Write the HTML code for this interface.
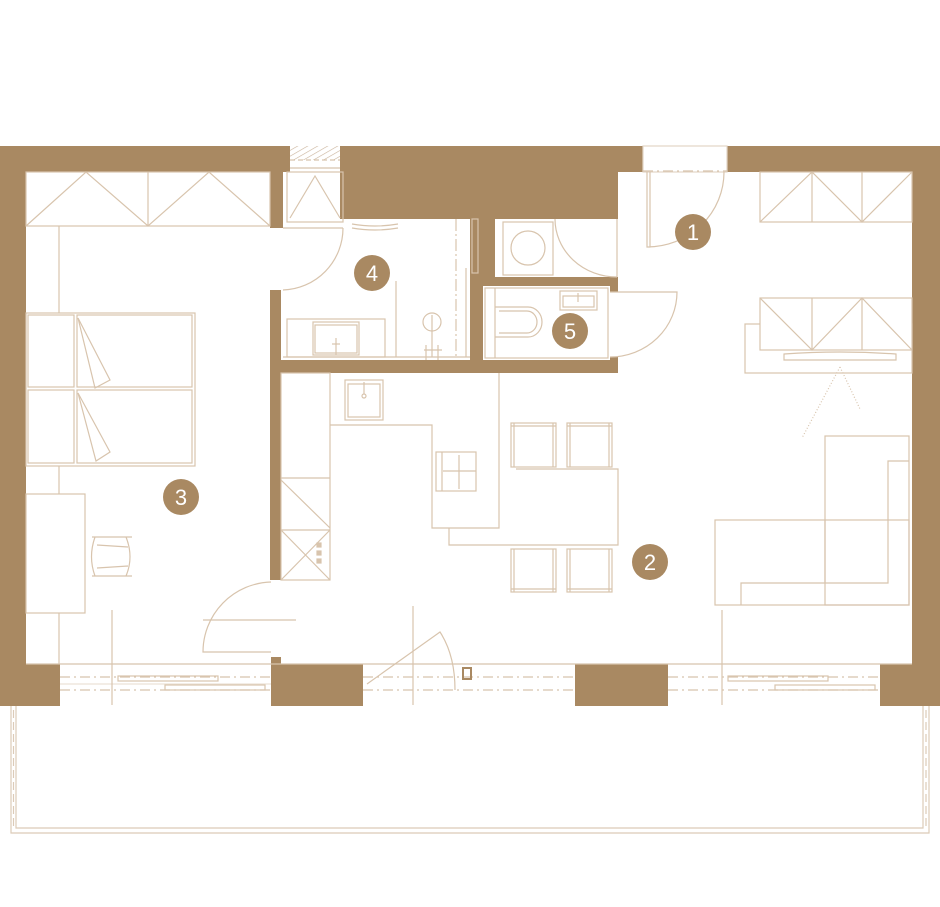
<!DOCTYPE html>
<html><head><meta charset="utf-8"><style>
html,body{margin:0;padding:0;background:#fff;}
svg{display:block}
text{font-family:"Liberation Sans",sans-serif;font-size:22px;fill:#fff;text-anchor:middle}
</style></head><body>
<svg width="940" height="907" viewBox="0 0 940 907" xmlns="http://www.w3.org/2000/svg">
<defs>
<pattern id="h" width="5" height="5" patternUnits="userSpaceOnUse" patternTransform="rotate(60)"><line x1="0" y1="0" x2="0" y2="5" stroke="#c9b29a" stroke-width="1.2"/></pattern>
</defs>
<g fill="none" stroke="#dccbb8" stroke-width="1.2">
<path d="M11,705 V833 H929 V705"/>
<path d="M16,705 V828 H923 V705"/>
<line x1="13.5" y1="710" x2="13.5" y2="826" stroke-dasharray="8,4"/>
<line x1="926" y1="710" x2="926" y2="826" stroke-dasharray="8,4"/>
</g>
<g fill="#a98962">
<rect x="0" y="146" width="290" height="26"/>
<rect x="340" y="146" width="303" height="26"/>
<rect x="727" y="146" width="213" height="26"/>
<rect x="340" y="146" width="278" height="73"/>
<rect x="0" y="146" width="26" height="560"/>
<rect x="912" y="146" width="28" height="560"/>
<rect x="0" y="664" width="60" height="42"/>
<rect x="271" y="664" width="92" height="42"/>
<rect x="575" y="664" width="93" height="42"/>
<rect x="880" y="664" width="60" height="42"/>
<rect x="270" y="172" width="13" height="56"/>
<rect x="270" y="290" width="11" height="290"/>
<rect x="271" y="657" width="10" height="8"/>
<rect x="270" y="360" width="348" height="13"/>
<rect x="481" y="219" width="14" height="67"/>
<rect x="470" y="219" width="13" height="154"/>
<rect x="470" y="277" width="148" height="9"/>
<rect x="610" y="277" width="8" height="15"/>
<rect x="610" y="357" width="8" height="16"/>
</g>
<rect x="290" y="146" width="50" height="14" fill="url(#h)"/>
<rect x="495" y="219" width="123" height="58" fill="#fff"/>
<g fill="none" stroke="#d8c4ad" stroke-width="1.2">
<line x1="290" y1="160" x2="340" y2="160" stroke-dasharray="5,3"/>
<line x1="290" y1="168" x2="340" y2="168"/>
<rect x="643" y="146" width="84" height="26" stroke="#e2d5c6"/>
<line x1="643" y1="171" x2="727" y2="171" stroke-dasharray="10,4,2,4"/>
<rect x="26" y="172" width="244" height="54"/>
<path d="M26,226 L86,172 L148,226 L209,172 L270,226 M148,172 V226"/>
<line x1="59" y1="226" x2="59" y2="313"/>
<rect x="26" y="313" width="169" height="153"/>
<rect x="28" y="315" width="46" height="72"/><rect x="28" y="390" width="46" height="73"/>
<rect x="77" y="315" width="115" height="72"/><rect x="77" y="390" width="115" height="73"/>
<path d="M78,318 L95,388 L110,380 Z M78,393 L96,461 L110,452 Z"/>
<line x1="59" y1="466" x2="59" y2="494"/>
<rect x="26" y="494" width="59" height="119"/>
<path d="M92,537 H132 M92,576 H132 M95,537 Q88,557 95,576 M126,537 Q134,557 126,576 M97,545 L128,547 M97,568 L128,566"/>
<line x1="59" y1="613" x2="59" y2="664"/>
<rect x="287" y="172" width="56" height="50"/>
<path d="M290,218 L315,176 L340,218"/>
<line x1="283" y1="228" x2="343" y2="228"/>
<path d="M283,290 A62,62 0 0 0 343,228"/>
<path d="M352,224 Q375,228 398,224 M352,228 Q375,232 398,228"/>
<rect x="287" y="319" width="98" height="38"/>
<rect x="313" y="322" width="46" height="33"/><rect x="315" y="325" width="42" height="28"/>
<line x1="336" y1="338" x2="336" y2="355"/><line x1="332" y1="344" x2="340" y2="344"/>
<line x1="396" y1="281" x2="396" y2="357"/>
<line x1="456" y1="219" x2="456" y2="357" stroke-dasharray="12,3,2,3"/>
<line x1="466" y1="268" x2="466" y2="357"/>
<rect x="472" y="219" width="6" height="54"/>
<circle cx="432" cy="322" r="9"/>
<path d="M432,315 V357 M424,350 H442 M426,345 V360 M438,345 V360"/>
<line x1="283" y1="357" x2="470" y2="357"/>
<rect x="503" y="222" width="50" height="53"/>
<circle cx="528" cy="248" r="17"/>
<path d="M555,219 A62,58 0 0 0 617,277"/>
<line x1="617" y1="219" x2="617" y2="277"/>
<rect x="485" y="288" width="123" height="70"/>
<line x1="495" y1="288" x2="495" y2="358"/>
<rect x="560" y="291" width="37" height="19"/><rect x="563" y="296" width="31" height="11"/>
<line x1="578" y1="293" x2="578" y2="302"/>
<path d="M495,307 H528 A14,15 0 0 1 528,337 H495 M499,311 H527 A10,11 0 0 1 527,333 H499"/>
<path d="M610,292 H677 A67,65 0 0 1 610,357"/>
<path d="M647,172 V247 H650 V172 M647,247 A77,75 0 0 0 724,172"/>
<rect x="760" y="172" width="152" height="50"/>
<path d="M760,222 L812,172 L862,222 L912,172 M812,172 V222 M862,172 V222"/>
<rect x="745" y="324" width="167" height="49"/>
<rect x="760" y="298" width="152" height="52" fill="#fff"/>
<path d="M760,298 L812,350 L862,298 L912,350 M812,298 V350 M862,298 V350"/>
<path d="M784,354 Q840,350 896,354 V360 H784 Z"/>
<path d="M840,367 L802,438 M840,367 L860,409" stroke-dasharray="1,2"/>
<rect x="825" y="436" width="84" height="169"/>
<rect x="715" y="520" width="194" height="85"/>
<path d="M741,605 V583 H888 V461 H909 M825,520 V583"/>
<rect x="281" y="373" width="49" height="207"/>
<path d="M281,478 H330 M281,530 H330 M281,480 L330,528 M281,530 L330,580 M330,530 L281,580"/>
<g fill="#d8c4ad"><rect x="317" y="543" width="4" height="4"/><rect x="317" y="551" width="4" height="4"/><rect x="317" y="559" width="4" height="4"/></g>
<path d="M330,425 H432 V528 H499 V373"/>
<rect x="345" y="380" width="38" height="40"/><rect x="348" y="384" width="32" height="33"/>
<line x1="364" y1="382" x2="364" y2="394"/><circle cx="364" cy="396" r="2"/>
<rect x="436" y="452" width="40" height="39"/>
<path d="M442,452 V491 M443,471 H476 M459,455 V489"/>
<path d="M516,469 H618 V545 H449 V528"/>
<rect x="511" y="423" width="45" height="44"/><line x1="511" y1="426" x2="556" y2="426"/><line x1="553" y1="423" x2="553" y2="467"/><line x1="514" y1="423" x2="514" y2="467"/>
<rect x="567" y="423" width="45" height="44"/><line x1="567" y1="426" x2="612" y2="426"/><line x1="609" y1="423" x2="609" y2="467"/><line x1="570" y1="423" x2="570" y2="467"/>
<rect x="511" y="549" width="45" height="43"/><line x1="511" y1="589" x2="556" y2="589"/><line x1="514" y1="549" x2="514" y2="592"/><line x1="553" y1="549" x2="553" y2="592"/>
<rect x="567" y="549" width="45" height="43"/><line x1="567" y1="589" x2="612" y2="589"/><line x1="570" y1="549" x2="570" y2="592"/><line x1="609" y1="549" x2="609" y2="592"/>
<path d="M271,582 A70,70 0 0 0 203,652 H271"/>
<line x1="203" y1="620" x2="296" y2="620"/>
<line x1="26" y1="664" x2="912" y2="664"/>
<g stroke-dasharray="10,4,2,4">
<line x1="60" y1="677" x2="271" y2="677"/><line x1="60" y1="690" x2="271" y2="690"/>
<line x1="363" y1="677" x2="575" y2="677"/><line x1="363" y1="690" x2="575" y2="690"/>
<line x1="668" y1="677" x2="880" y2="677"/><line x1="668" y1="690" x2="880" y2="690"/>
</g>
<line x1="60" y1="684" x2="271" y2="684" stroke="#ece2d6"/>
<rect x="118" y="676" width="100" height="5"/><rect x="165" y="685" width="100" height="5"/>
<rect x="728" y="676" width="100" height="5"/><rect x="775" y="685" width="100" height="5"/>
<path d="M367,684 L440,632 Q455,655 455,690"/>
<rect x="463" y="668" width="8" height="11" stroke="#a98962" stroke-width="2"/>
<line x1="112" y1="610" x2="112" y2="705"/>
<line x1="413" y1="606" x2="413" y2="705"/>
<line x1="722" y1="610" x2="722" y2="705"/>
</g>
<g fill="#a98962">
<circle cx="693" cy="232" r="18"/><circle cx="650" cy="562" r="18"/><circle cx="181" cy="497" r="18"/><circle cx="372" cy="273" r="18"/><circle cx="570" cy="331" r="18"/>
</g>
<text x="693" y="240">1</text><text x="650" y="570">2</text><text x="181" y="505">3</text><text x="372" y="281">4</text><text x="570" y="339">5</text>
</svg>
</body></html>
